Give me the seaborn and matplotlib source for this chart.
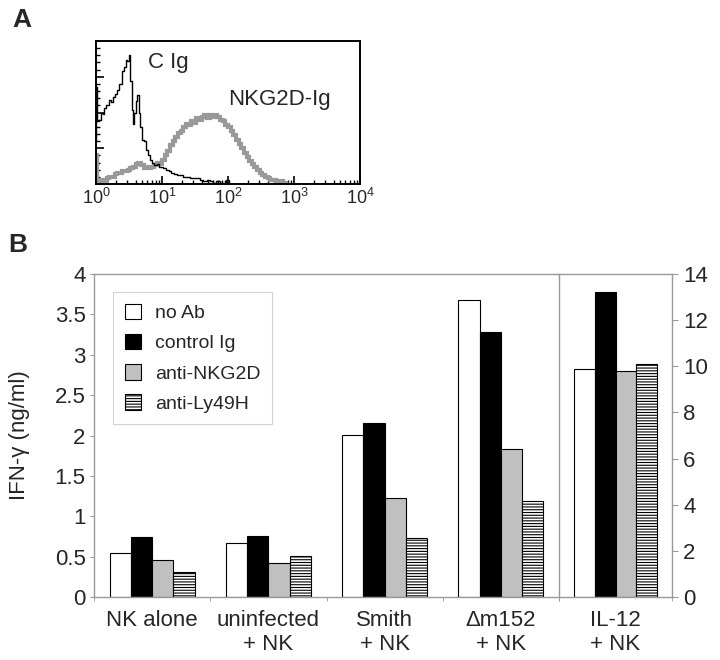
import numpy as np
import pandas as pd
import matplotlib
matplotlib.use("Agg")
import matplotlib.pyplot as plt
from matplotlib.ticker import MultipleLocator, LogLocator
import seaborn as sns

# ---- panel A: flow histograms (log10 channel, % of max count) ----
cig_log = [0.00, 0.01, 0.03, 0.06, 0.09, 0.11, 0.14, 0.17, 0.21, 0.24, 0.27,
           0.31, 0.34, 0.37, 0.41, 0.44, 0.46, 0.49, 0.51, 0.53, 0.55, 0.57,
           0.59, 0.61, 0.64, 0.66, 0.68, 0.71, 0.74, 0.77, 0.80, 0.83, 0.87,
           0.90, 0.94, 0.97, 1.00, 1.04, 1.08, 1.12, 1.16, 1.20, 1.25, 1.30,
           1.35, 1.40, 1.45, 1.50, 1.55, 1.60, 1.65, 1.70, 1.75, 1.80, 1.85,
           1.90, 1.95, 2.00, 2.04]
cig_cnt = [30, 68, 44, 45, 50, 49, 53, 55, 59, 57, 61,
           63, 66, 70, 79, 82, 87, 86, 90, 72, 52, 42,
           50, 58, 62, 50, 40, 31, 30, 24, 20, 17, 15,
           13, 14, 12, 12, 11, 10, 9, 8, 7, 6, 6,
           5, 5, 4, 4, 4, 3, 2, 3, 2, 1, 2,
           1, 1, 3, 0]

nkg_log = [0.00, 0.03, 0.06, 0.10, 0.14, 0.18, 0.22, 0.26, 0.30, 0.34, 0.38,
           0.42, 0.46, 0.50, 0.54, 0.58, 0.62, 0.66, 0.70, 0.74, 0.78, 0.82,
           0.86, 0.90, 0.94, 0.98, 1.02, 1.06, 1.10, 1.14, 1.18, 1.22, 1.26,
           1.30, 1.34, 1.38, 1.42, 1.46, 1.50, 1.54, 1.58, 1.62, 1.66, 1.70,
           1.74, 1.78, 1.82, 1.86, 1.90, 1.94, 1.98, 2.02, 2.06, 2.10, 2.14,
           2.18, 2.22, 2.26, 2.30, 2.34, 2.38, 2.42, 2.46, 2.50, 2.54, 2.58,
           2.62, 2.66, 2.70, 2.74, 2.78, 2.82, 2.86, 2.90]
nkg_cnt = [20, 3, 2, 3, 2, 4, 5, 5, 7, 8, 8,
           9, 9, 10, 11, 12, 14, 15, 13, 11, 12, 11,
           12, 13, 15, 14, 17, 20, 23, 27, 30, 33, 36,
           37, 40, 42, 41, 44, 43, 46, 45, 47, 48, 46,
           48, 47, 48, 47, 45, 44, 41, 40, 37, 34, 31,
           28, 25, 22, 19, 16, 14, 12, 10, 8, 6, 5,
           4, 3, 3, 2, 2, 2, 1, 0]

# ---- panel B: IFN-gamma bars ----
series = ["no Ab", "control Ig", "anti-NKG2D", "anti-Ly49H"]
groups_left = ["NK alone", "uninfected\n+ NK", "Smith\n+ NK", "\u0394m152\n+ NK"]
vals_left = {
    "no Ab":      [0.54, 0.67, 2.01, 3.68],
    "control Ig": [0.74, 0.75, 2.16, 3.28],
    "anti-NKG2D": [0.46, 0.42, 1.22, 1.83],
    "anti-Ly49H": [0.31, 0.51, 0.73, 1.19],
}
groups_right = ["IL-12\n+ NK"]
vals_right = {
    "no Ab":      [9.9],
    "control Ig": [13.2],
    "anti-NKG2D": [9.8],
    "anti-Ly49H": [10.1],
}
left_ticks = [0, 0.5, 1, 1.5, 2, 2.5, 3, 3.5, 4]
left_ticklabels = ["0", "0.5", "1", "1.5", "2", "2.5", "3", "3.5", "4"]
right_ticks = [0, 2, 4, 6, 8, 10, 12, 14]

colors = {"no Ab": "white", "control Ig": "black",
          "anti-NKG2D": "#c0c0c0", "anti-Ly49H": "white"}

sns.set_style("white")
plt.rcParams['font.family'] = ['Liberation Sans', 'DejaVu Sans']
plt.rcParams['mathtext.fontset'] = 'custom'
plt.rcParams['mathtext.rm'] = 'Liberation Sans'
plt.rcParams['hatch.linewidth'] = 0.8
plt.rcParams['hatch.color'] = 'black'

fig = plt.figure(figsize=(7.2, 6.6), dpi=100)

# ---------------- panel A ----------------
axA = fig.add_axes([96/720, 1-184/660, 264/720, 143/660])
axA.plot(10**np.array(nkg_log), nkg_cnt, color="#999999", lw=3.0,
         drawstyle="steps-mid", solid_joinstyle="miter")
axA.plot(10**np.array(cig_log), cig_cnt, color="black", lw=1.0,
         drawstyle="steps-mid")
axA.set_xscale("log")
axA.set_xlim(1, 1e4)
axA.set_ylim(0, 100)
axA.set_xticks([1, 10, 100, 1000, 10000])
axA.set_xticklabels([r"$10^{0}$", r"$10^{1}$", r"$10^{2}$", r"$10^{3}$", r"$10^{4}$"],
                    fontsize=13)
axA.xaxis.set_minor_locator(LogLocator(base=10, subs=np.arange(2, 10), numticks=20))
axA.yaxis.set_major_locator(MultipleLocator(25))
axA.yaxis.set_minor_locator(MultipleLocator(5))
axA.set_yticklabels([])
axA.tick_params(axis="both", which="major", direction="in", length=6, width=1.2,
                color="black", bottom=True, left=True)
axA.tick_params(axis="both", which="minor", direction="in", length=3, width=1.0,
                color="black", bottom=True, left=True)
axA.tick_params(axis="x", pad=3)
for s in axA.spines.values():
    s.set_color("black")
    s.set_linewidth(1.4)
axA.text(6.1, 85, "C Ig", fontsize=16, va="center")
axA.text(100, 59, "NKG2D-Ig", fontsize=16, va="center")
fig.text(12/720, 1-8/660, "A", fontsize=19, fontweight="bold", va="top")

# ---------------- panel B ----------------
axL = fig.add_axes([94/720, 1-597/660, 465/720, 323/660])
axR = fig.add_axes([559/720, 1-597/660, 113/720, 323/660])

rowsL = []
for s in series:
    for g, v in zip(groups_left, vals_left[s]):
        rowsL.append({"group": g, "series": s, "value": v})
dfL = pd.DataFrame(rowsL)
rowsR = []
for s in series:
    for g, v in zip(groups_right, vals_right[s]):
        rowsR.append({"group": g, "series": s, "value": v})
dfR = pd.DataFrame(rowsR)

for ax, df, order in [(axL, dfL, groups_left), (axR, dfR, groups_right)]:
    sns.barplot(data=df, x="group", y="value", hue="series", order=order,
                hue_order=series, palette=colors, saturation=1, width=0.73,
                edgecolor="black", linewidth=0.8, errorbar=None, ax=ax,
                legend=False)
    for p in ax.containers[3]:
        p.set_hatch("------")
    ax.set_xlim(-0.5, len(order) - 0.5)
    ax.set_xlabel("")
    ax.set_ylabel("")
    ax.tick_params(axis="x", which="major", length=0, pad=9, labelsize=16)
    ax.set_xticks(np.arange(len(order) + 1) - 0.5, minor=True)
    ax.tick_params(axis="x", which="minor", length=3, color="#999999", bottom=True)
    for s in ax.spines.values():
        s.set_color("#999999")
        s.set_linewidth(1.0)

axL.set_ylim(0, 4)
axL.set_yticks(left_ticks)
axL.set_yticklabels(left_ticklabels)
axL.tick_params(axis="y", left=True, length=3, color="#999999", pad=3, labelsize=16)
axL.set_ylabel("IFN-\u03b3 (ng/ml)", fontsize=16)
axL.yaxis.set_label_coords(-0.138, 0.5)
axL.spines["right"].set_visible(False)

axR.set_ylim(0, 14)
axR.set_yticks(right_ticks)
axR.yaxis.tick_right()
axR.tick_params(axis="y", right=True, left=False, length=4, color="#999999",
                pad=4, labelsize=16)

leg = axL.legend(axL.containers, series, loc="upper left",
                 bbox_to_anchor=(0.041, 0.944), borderaxespad=0, fontsize=14,
                 frameon=True, fancybox=False, edgecolor="#c8c8c8",
                 handlelength=0.85, handleheight=0.85, handletextpad=0.7,
                 labelspacing=0.6, borderpad=0.6)
leg.get_frame().set_linewidth(0.8)

fig.text(8/720, 1-233/660, "B", fontsize=19, fontweight="bold", va="top")

fig.savefig("out.png", dpi=100)
